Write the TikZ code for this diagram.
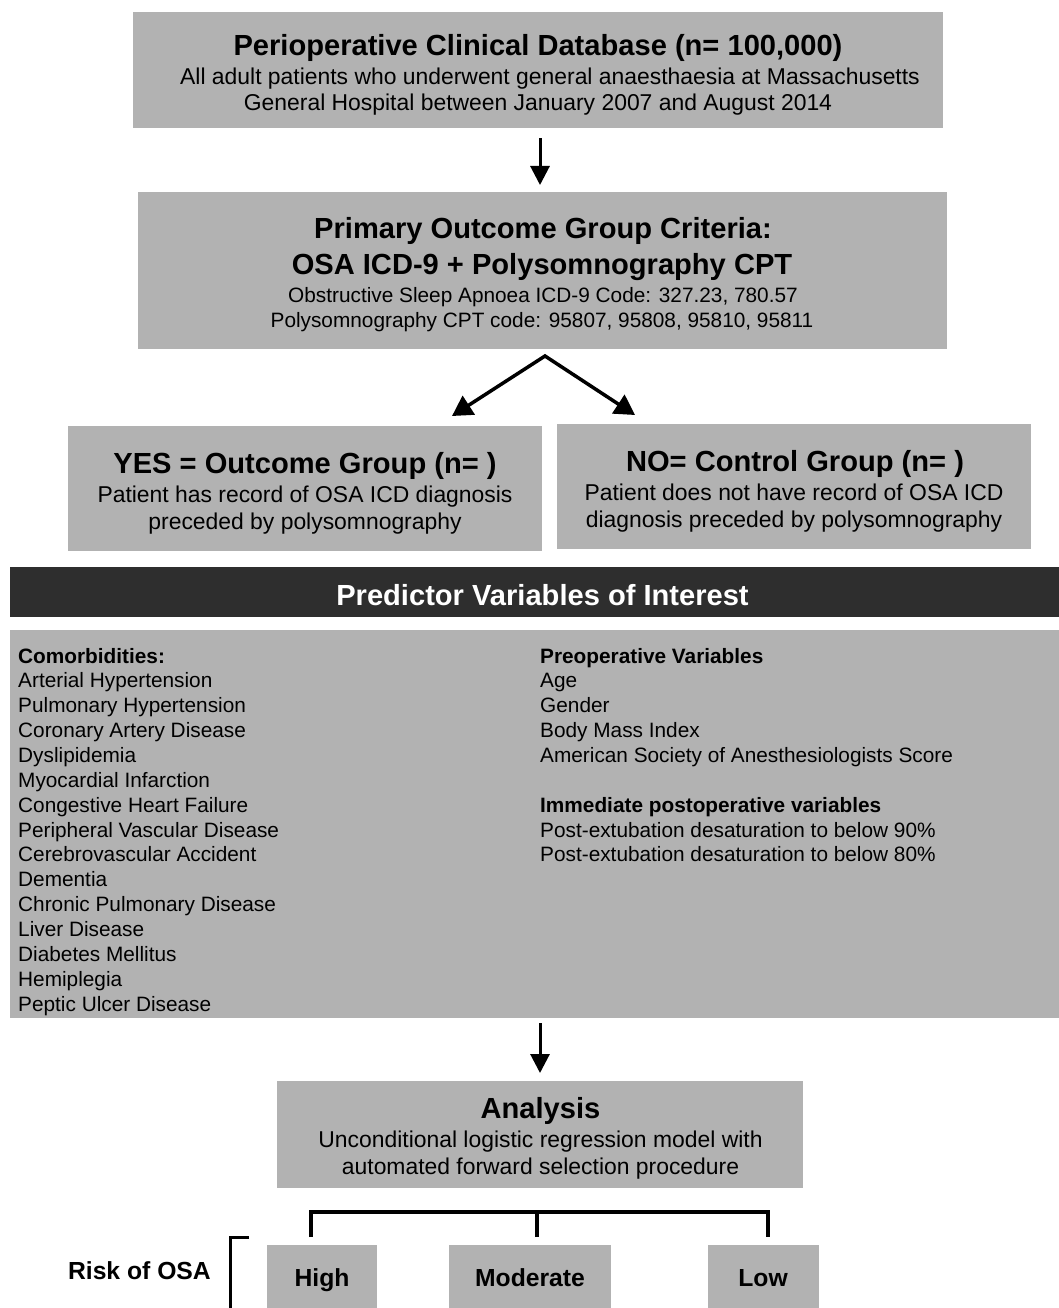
\documentclass[tikz,border=0pt]{standalone}
\usepackage{fontspec}
\setmainfont{Liberation Sans}
\usetikzlibrary{arrows.meta}
\definecolor{boxgray}{HTML}{B2B2B2}
\definecolor{banddark}{HTML}{2E2E2E}
\begin{document}
\begin{tikzpicture}[x=1pt,y=-1pt,
  box/.style={fill=boxgray,draw=none,inner sep=0pt,anchor=north west},
  head/.style={font=\fontsize{29.1}{34}\selectfont\bfseries,inner sep=0pt,anchor=base},
  body/.style={font=\fontsize{22.9}{27}\selectfont,inner sep=0pt,anchor=base},
  small/.style={font=\fontsize{20.8}{26}\selectfont,inner sep=0pt,anchor=base},
  lst/.style={font=\fontsize{20.8}{26}\selectfont,inner sep=0pt,anchor=base west},
  lsthead/.style={font=\fontsize{20.8}{26}\selectfont\bfseries,inner sep=0pt,anchor=base west},
  risk/.style={font=\fontsize{24.7}{28}\selectfont\bfseries,inner sep=0pt,anchor=base},
  arr/.style={line width=3pt,-{Triangle[width=19pt,length=19pt]}},
  brk/.style={line width=3.5pt}
]
\useasboundingbox (0,0) rectangle (1059,1308);

% Box 1
\node[box,minimum width=810pt,minimum height=116pt] (db) at (133,12) {};
\node[head] (dbT) at (538,56) {Perioperative Clinical Database (n= 100,000)};
\node[body] (dbL1) at (550,85) {All adult patients who underwent general anaesthaesia at Massachusetts};
\node[body] (dbL2) at (538,111) {General Hospital between January 2007 and August 2014};

% Box 2
\node[box,minimum width=809pt,minimum height=157pt] (crit) at (138,192) {};
\node[head] (critT1) at (543,238) {Primary Outcome Group Criteria:};
\node[head] (critT2) at (542,274) {OSA ICD-9 + Polysomnography CPT};
\node[small] (critL1) at (543,302) {Obstructive Sleep Apnoea ICD-9 Code: 327.23, 780.57};
\node[small] (critL2) at (542,327) {Polysomnography CPT code: 95807, 95808, 95810, 95811};

\draw[arr,shorten <=10pt,shorten >=7pt] (db.south -| 540,0) -- (crit.north -| 540,0);

% split arrows
\coordinate (apex) at (545,356);
\coordinate (tipL) at (452,416);
\coordinate (tipR) at (635,415);
\draw[line width=3.5pt,miter limit=10,{Triangle[width=22pt,length=20pt]}-{Triangle[width=22pt,length=20pt]}] (tipL) -- (apex) -- (tipR);

% YES / NO boxes
\node[box,minimum width=474pt,minimum height=125pt] (yes) at (68,426) {};
\node[head] (yesT) at (305,473) {YES = Outcome Group (n= )};
\node[body] (yesL1) at (305,502) {Patient has record of OSA ICD diagnosis};
\node[body] (yesL2) at (305,529) {preceded by polysomnography};

\node[box,minimum width=474pt,minimum height=125pt] (no) at (557,424) {};
\node[head] (noT) at (795,471) {NO= Control Group (n= )};
\node[body] (noL1) at (794,500) {Patient does not have record of OSA ICD};
\node[body] (noL2) at (794,527) {diagnosis preceded by polysomnography};

% Dark band
\node[box,fill=banddark,minimum width=1052pt,minimum height=50pt] (band) at (10,567) {};
\node[head,text=white] (bandT) at (542.5,605) {Predictor Variables of Interest};

% Big box
\node[box,minimum width=1052pt,minimum height=388pt] (vars) at (10,630) {};
\def\rowA{663}
\def\rs{24.86}
\node[lsthead] (c0) at (18,\rowA) {Comorbidities:};
\foreach \t [count=\i from 1] in {Arterial Hypertension,Pulmonary Hypertension,Coronary Artery Disease,Dyslipidemia,Myocardial Infarction,Congestive Heart Failure,Peripheral Vascular Disease,Cerebrovascular Accident,Dementia,Chronic Pulmonary Disease,Liver Disease,Diabetes Mellitus,Hemiplegia,Peptic Ulcer Disease}{
  \node[lst] (c\i) at (18,{\rowA+\i*\rs}) {\t};}
\node[lsthead] (p0) at (540,\rowA) {Preoperative Variables};
\foreach \t [count=\i from 1] in {Age,Gender,Body Mass Index,American Society of Anesthesiologists Score}{
  \node[lst] (p\i) at (540,{\rowA+\i*\rs}) {\t};}
\node[lsthead] (q0) at (540,{\rowA+6*\rs}) {Immediate postoperative variables};
\node[lst] (q1) at (540,{\rowA+7*\rs}) {Post-extubation desaturation to below 90\%};
\node[lst] (q2) at (540,{\rowA+8*\rs}) {Post-extubation desaturation to below 80\%};

% Analysis
\node[box,minimum width=526pt,minimum height=107pt] (ana) at (277,1081) {};
\draw[arr,shorten <=5pt,shorten >=8pt] (vars.south -| 540,0) -- (ana.north -| 540,0);
\node[head] (anaT) at (540.5,1118) {Analysis};
\node[body] (anaL1) at (540.5,1147) {Unconditional logistic regression model with};
\node[body] (anaL2) at (540.5,1174) {automated forward selection procedure};

% Bracket
\coordinate (bL) at (311,1237);
\coordinate (bM) at (537,1237);
\coordinate (bR) at (768,1237);
\draw[brk] (bL) -- (311,1212) -- (768,1212) -- (bR);
\draw[brk] (bM) -- (537,1212);

% Risk boxes
\node[box,minimum width=110pt,minimum height=70pt] (high) at (267,1245) {};
\node[box,minimum width=162pt,minimum height=70pt] (mod) at (449,1245) {};
\node[box,minimum width=111pt,minimum height=70pt] (low) at (708,1245) {};
\node[risk] (highT) at (322,1286) {High};
\node[risk] (modT) at (530,1286) {Moderate};
\node[risk] (lowT) at (763,1286) {Low};

\coordinate (lb) at (249,1237);
\draw[line width=3pt] (lb) -- (230,1237) -- (230,1312);
\node[risk,anchor=base east] (riskT) at (211,1279) {Risk of OSA};
\end{tikzpicture}
\end{document}
